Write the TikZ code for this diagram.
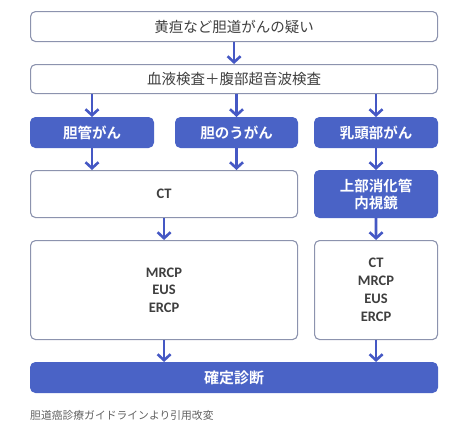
\documentclass[tikz,border=0pt]{standalone}
\usepackage{fontspec}
\setmainfont{Carlito}
\newfontfamily\cjk{Noto Sans CJK JP}
\newfontfamily\cjkb{Noto Sans CJK JP}[UprightFont=* Bold]
\usetikzlibrary{arrows.meta}
\definecolor{bluef}{HTML}{4A63C6}
\definecolor{arrc}{HTML}{4558C4}
\definecolor{bordc}{HTML}{8C93AE}
\definecolor{txtc}{HTML}{3F3F3F}
\tikzset{
  wbox/.style={draw=bordc, line width=1.1pt, fill=white, rounded corners=5pt, inner sep=0pt, text=txtc, align=center},
  bbox/.style={draw=bluef, line width=1pt, fill=bluef, rounded corners=5pt, inner sep=0pt, text=white, align=center},
  jtext/.style={font=\cjk\fontsize{14.5pt}{17pt}\selectfont},
  jbold/.style={font=\cjkb\fontsize{14.5pt}{17pt}\selectfont},
  ltext/.style={font=\bfseries\fontsize{14.5pt}{17.5pt}\selectfont},
  arr/.style={draw=arrc, line width=2.6pt, -{Straight Barb[length=6pt,width=13pt,line width=2.6pt]}},
}
\begin{document}
\begin{tikzpicture}[x=1pt,y=-1pt]
\useasboundingbox (0,0) rectangle (474,434);
% row 1
\node[wbox, jtext, minimum width=407pt, minimum height=30pt, anchor=north west] (q) at (30,11) {黄疸など胆道がんの疑い};
\node[wbox, jtext, minimum width=407pt, minimum height=29pt, anchor=north west] (b) at (30,64) {血液検査＋腹部超音波検査};
% row 3
\node[bbox, jbold, minimum width=123pt, minimum height=30pt, anchor=north west] (c1) at (30,117) {胆管がん};
\node[bbox, jbold, minimum width=122pt, minimum height=30pt, anchor=north west] (c2) at (175,117) {胆のうがん};
\node[bbox, jbold, minimum width=123pt, minimum height=30pt, anchor=north west] (c3) at (314,117) {乳頭部がん};
% row 4
\node[wbox, ltext, minimum width=267pt, minimum height=47pt, anchor=north west] (ct) at (30,170) {CT};
\node[bbox, jbold, minimum width=123pt, minimum height=47pt, anchor=north west] (en) at (314,170) {上部消化管\\内視鏡};
% row 5
\node[wbox, ltext, minimum width=267pt, minimum height=99pt, anchor=north west] (m1) at (30,240) {MRCP\\EUS\\ERCP};
\node[wbox, ltext, font=\bfseries\fontsize{14.5pt}{18pt}\selectfont, minimum width=123pt, minimum height=99pt, anchor=north west] (m2) at (314,240) {CT\\MRCP\\EUS\\ERCP};
% row 6
\node[bbox, font=\cjkb\fontsize{15pt}{17pt}\selectfont, minimum width=407pt, minimum height=30pt, anchor=north west] (d) at (30,362) {確定診断};
% caption
\node[anchor=west, inner sep=0pt, text=black!62, font=\cjk\fontsize{10.8pt}{13pt}\selectfont] (cap) at (30,415) {胆道癌診療ガイドラインより引用改変};
% arrows
\draw[arr] (q.south) -- (b.north);
\draw[arr] (b.south -| c1.north) -- (c1.north);
\draw[arr] (b.south -| c2.north) -- (c2.north);
\draw[arr] (b.south -| c3.north) -- (c3.north);
\draw[arr] (c1.south) -- (c1.south |- ct.north);
\draw[arr] (c2.south) -- (c2.south |- ct.north);
\draw[arr] (c3.south) -- (en.north);
\draw[arr] (ct.south) -- (m1.north);
\draw[arr] (en.south) -- (m2.north);
\draw[arr] (m1.south) -- (m1.south |- d.north);
\draw[arr] (m2.south) -- (m2.south |- d.north);
\end{tikzpicture}
\end{document}
